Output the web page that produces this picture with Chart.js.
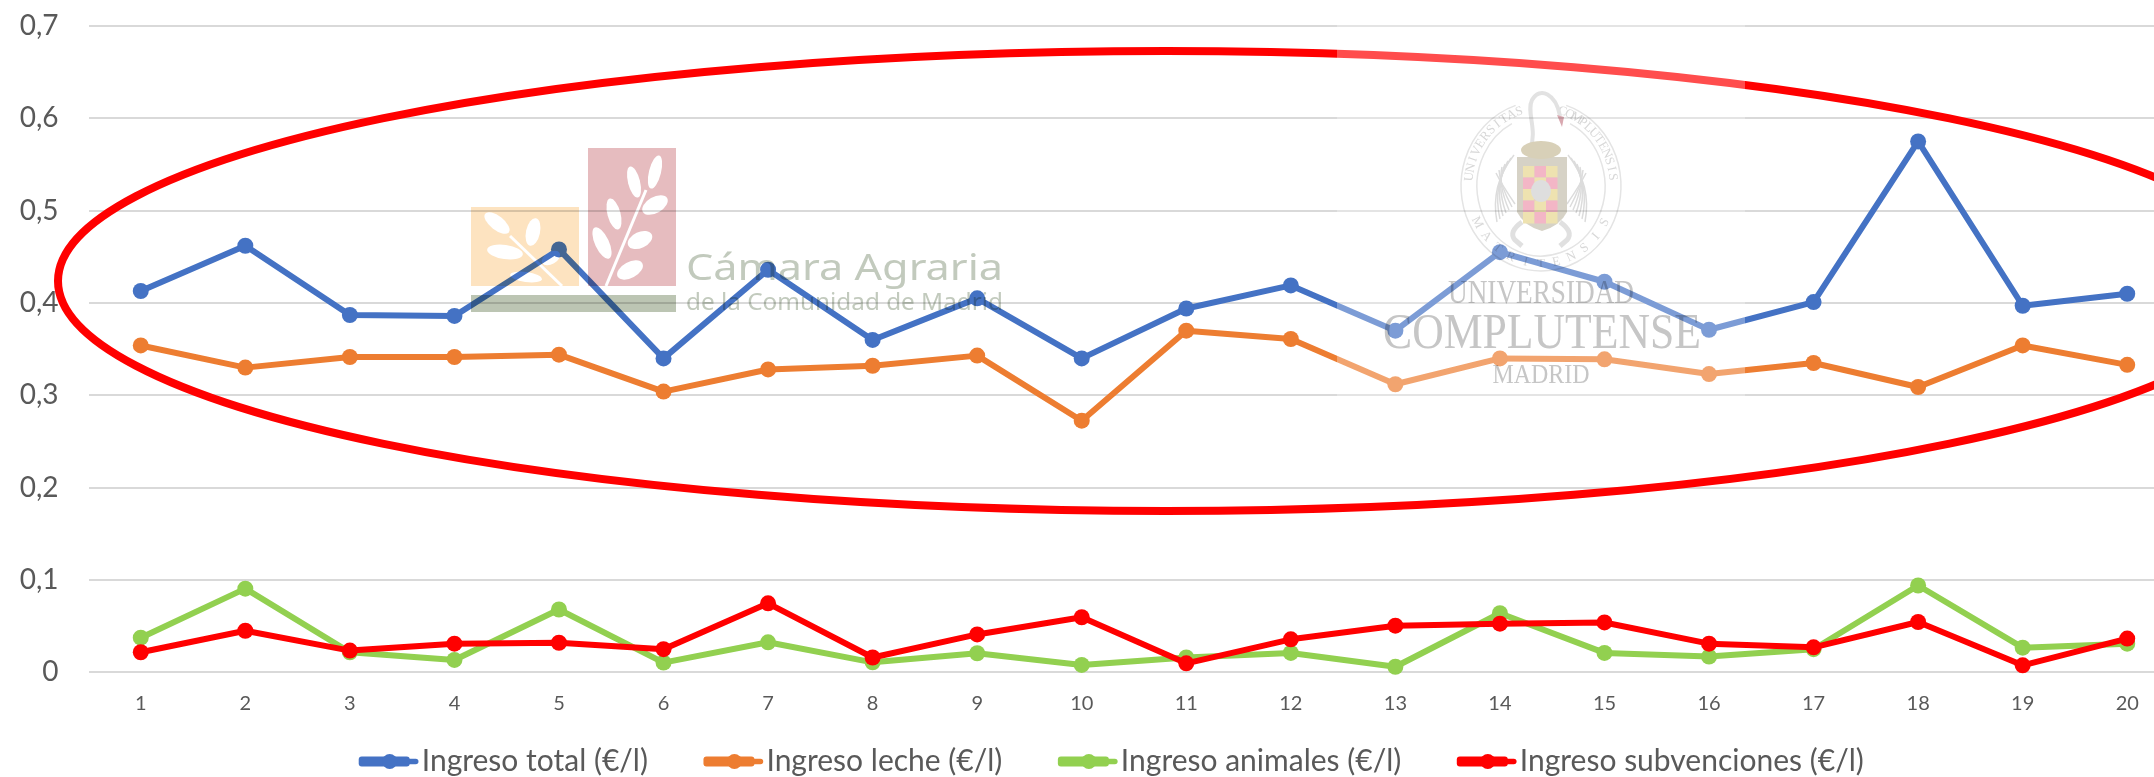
<!DOCTYPE html>
<html lang="es"><head><meta charset="utf-8">
<style>html,body{margin:0;padding:0;background:#fff;overflow:hidden;width:2154px;height:777px}canvas{display:block}</style>
<script src="https://cdn.jsdelivr.net/npm/chart.js@4"></script>
</head><body><canvas id="c" width="2216" height="777"></canvas>
<script>
const categories = ['1','2','3','4','5','6','7','8','9','10','11','12','13','14','15','16','17','18','19','20'];
const ingresoTotal = [0.413,0.462,0.387,0.386,0.458,0.340,0.436,0.360,0.405,0.340,0.394,0.419,0.370,0.455,0.423,0.371,0.401,0.575,0.397,0.410];
const ingresoLeche = [0.354,0.330,0.3415,0.3415,0.344,0.304,0.328,0.332,0.343,0.2725,0.370,0.361,0.312,0.340,0.339,0.323,0.335,0.309,0.354,0.333];
const ingresoAnimales = [0.0375,0.0906,0.0217,0.0134,0.068,0.0105,0.0325,0.0108,0.0206,0.008,0.016,0.021,0.006,0.064,0.021,0.017,0.025,0.094,0.0267,0.031];
const ingresoSubvenciones = [0.0217,0.045,0.0235,0.031,0.032,0.025,0.0747,0.016,0.041,0.0596,0.0097,0.0357,0.0505,0.0527,0.054,0.031,0.027,0.0545,0.0076,0.0365];
const seriesNames = ['Ingreso total (€/l)','Ingreso leche (€/l)','Ingreso animales (€/l)','Ingreso subvenciones (€/l)'];
const seriesColors = ['#4472C4','#ED7D31','#92D050','#FF0000'];
const TXT='#595959', FONT='Lato';

function leaf(g,x,y,rx,ry,deg){g.beginPath();g.ellipse(x,y,rx,ry,deg*Math.PI/180,0,Math.PI*2);g.fill();}
function stretchedText(g,str,x,y,w){
  const m=g.measureText(str).width;g.save();g.translate(x,y);g.scale(w/m,1);g.fillText(str,0,0);g.restore();
}
function arcText(g,str,cx,cy,rx,ry,a0,a1){
  const n=str.length;
  for(let i=0;i<n;i++){
    const a=a0+(a1-a0)*(i+0.5)/n;
    g.save();g.translate(cx+rx*Math.cos(a),cy+ry*Math.sin(a));
    g.rotate(a1>a0?a+Math.PI/2:a-Math.PI/2);g.fillText(str[i],0,0);g.restore();
  }
}
function camaraLogo(){
  const cv=document.createElement('canvas');cv.width=2154;cv.height=777;const g=cv.getContext('2d');
  g.fillStyle='#fde3c0';g.fillRect(471,207,108,79);
  g.fillStyle='#e6bcbf';g.fillRect(588,148,88,138);
  g.fillStyle='#bcc5b3';g.fillRect(471,295,205,17);
  g.fillStyle='#fff';g.strokeStyle='#fff';
  [[655,172,6,17,14],[634,182,6,16,-14],[655,205,14,8,-30],[614,214,6.5,16,-15],[640,240,13,8,-25],[602,243,7,17,-25],[630,270,14,8,-28]].forEach(a=>leaf(g,...a));
  g.lineWidth=3;g.beginPath();g.moveTo(646,190);g.lineTo(606,286);g.stroke();
  [[497,223,15,7,38],[533,232,7,14,12],[505,252,18,7,8],[551,258,10,6,-30],[526,277,16,5,8]].forEach(a=>leaf(g,...a));
  g.beginPath();g.moveTo(510,236);g.lineTo(562,286);g.stroke();
  g.fillStyle='#c2cabd';g.textBaseline='alphabetic';g.textAlign='left';
  g.font='36px "Noto Sans"';stretchedText(g,'Cámara Agraria',686,280,317);
  g.font='23px "Noto Sans"';stretchedText(g,'de la Comunidad de Madrid',686,310,317);
  return cv;
}
function complutenseLogo(){
  const cv=document.createElement('canvas');cv.width=2154;cv.height=777;const g=cv.getContext('2d');
  const cx=1541;
  g.strokeStyle='#e4e4e4';g.lineWidth=1.5;
  g.beginPath();g.ellipse(cx,186,80,85,0,-1.25,4.39);g.stroke();
  g.beginPath();g.ellipse(cx,186,64,70,0,-1.1,4.24);g.stroke();
  g.fillStyle='#d8d8d8';g.font='13px "Liberation Serif"';g.textAlign='center';g.textBaseline='middle';
  arcText(g,'UNIVERSITAS',cx,186,72,78,Math.PI*1.02,Math.PI*1.42);
  arcText(g,'COMPLUTENSIS',cx,186,72,78,Math.PI*1.58,Math.PI*1.98);
  arcText(g,'MATRITENSIS',cx,186,72,78,Math.PI*0.88,Math.PI*0.12);
  g.strokeStyle='#e2e2e2';g.lineWidth=4;
  g.beginPath();g.moveTo(1530,150);g.bezierCurveTo(1538,130,1526,112,1532,100);g.bezierCurveTo(1540,86,1556,94,1560,116);g.stroke();
  g.fillStyle='#d9a8b0';g.beginPath();g.moveTo(1557,115);g.lineTo(1564,117);g.lineTo(1562,127);g.fill();
  g.strokeStyle='#dcdcdc';g.lineWidth=1.5;
  for(let i=0;i<7;i++){
    g.beginPath();g.moveTo(1514-i*3,155+i*3);g.quadraticCurveTo(1490+i*2,185,1497+i*3,222-i*3);g.stroke();
    g.beginPath();g.moveTo(1568+i*3,155+i*3);g.quadraticCurveTo(1592-i*2,185,1585-i*3,222-i*3);g.stroke();
  }
  g.strokeStyle='#e0e0e0';g.lineWidth=5;
  g.beginPath();g.moveTo(1522,222);g.quadraticCurveTo(1508,232,1515,240);g.lineTo(1522,246);g.stroke();
  g.beginPath();g.moveTo(1560,222);g.quadraticCurveTo(1574,232,1567,240);g.lineTo(1560,246);g.stroke();
  g.fillStyle='#d6d2c6';g.beginPath();g.moveTo(1517,157);g.lineTo(1567,157);g.lineTo(1567,212);g.quadraticCurveTo(1560,226,1542,231);g.quadraticCurveTo(1524,226,1517,212);g.closePath();g.fill();
  const cw=11.5,x0=1523,y0=166;
  for(let r=0;r<5;r++)for(let c=0;c<3;c++){g.fillStyle=(r+c)%2?'#f3b6c6':'#eee2b0';g.fillRect(x0+c*cw,y0+r*11.5,cw,11.5);}
  g.fillStyle='#dedede';g.beginPath();g.ellipse(1541,191,10,11,0,0,Math.PI*2);g.fill();
  g.fillStyle='#d8d0b8';g.beginPath();g.ellipse(1541,150,20,9,0,0,Math.PI*2);g.fill();
  g.fillStyle='#c6c6c6';g.textAlign='center';g.textBaseline='alphabetic';
  g.font='33px "Liberation Serif"';g.fillText('UNIVERSIDAD',1541,303,186);
  g.font='50px "Liberation Serif"';g.fillText('COMPLUTENSE',1542,348,318);
  g.font='27px "Liberation Serif"';g.fillText('MADRID',1541,383,97);
  return cv;
}
const overlay={id:'overlay',
 afterLayout(chart){const l=chart.legend;l.left+=23;l.right+=23;l.top-=29;},
 afterDraw(chart){
  const g=chart.ctx;g.save();
  chart.legend.legendHitBoxes.forEach((h,i)=>{
    const y=h.top+h.height/2,c=seriesColors[i];
    g.strokeStyle=c;g.lineWidth=5.5;g.lineCap='round';
    g.beginPath();g.moveTo(h.left+2,y);g.lineTo(h.left+54,y);g.stroke();
    g.fillStyle=c;g.beginPath();g.arc(h.left+28,y,7.5,0,Math.PI*2);g.fill();
  });
  g.lineCap='butt';
  g.strokeStyle='#FF0000';g.lineWidth=8;
  g.beginPath();g.ellipse(1166,281,1108,230,0,0,Math.PI*2);g.stroke();
  g.fillStyle='rgba(255,255,255,0.3)';g.fillRect(1337,23,408,410);
  g.globalCompositeOperation='multiply';
  g.drawImage(camaraLogo(),0,0);
  g.drawImage(complutenseLogo(),0,0);
  g.restore();
}};
new Chart(document.getElementById('c'),{
  type:'line',
  data:{labels:categories,datasets:[ingresoTotal,ingresoLeche,ingresoAnimales,ingresoSubvenciones].map((d,i)=>({
    label:seriesNames[i],data:d,borderColor:seriesColors[i],backgroundColor:seriesColors[i],
    borderWidth:6,borderCapStyle:'round',borderJoinStyle:'round',pointRadius:8,pointBackgroundColor:seriesColors[i],pointBorderColor:seriesColors[i],pointBorderWidth:0,
    tension:0,order:4-i,clip:false}))},
  plugins:[overlay],
  options:{responsive:false,animation:false,
    layout:{autoPadding:false,padding:{top:26,left:0,right:36.5,bottom:0}},
    plugins:{tooltip:{enabled:false},title:{display:false},
      legend:{position:'bottom',maxHeight:60,labels:{boxWidth:45,boxHeight:4,padding:58.5,color:TXT,font:{family:FONT,size:30},sort:(a,b)=>a.datasetIndex-b.datasetIndex}}},
    scales:{
      x:{type:'category',offset:true,border:{display:false},grid:{display:false,drawTicks:false},
        ticks:{color:TXT,font:{family:FONT,size:20},padding:19,maxRotation:0,autoSkip:false},
        afterFit(s){s.height=44.7;}},
      y:{min:0,max:0.7,border:{display:false},grid:{color:'#D9D9D9',lineWidth:2,drawTicks:false},
        ticks:{stepSize:0.1,color:TXT,font:{family:FONT,size:28},padding:30,callback:v=>v===0?'0':String(Math.round(v*10)/10).replace('.',',')},
        afterFit(s){s.width=88.5;s.paddingTop=0;s.paddingBottom=0;}}
    }}
});
</script></body></html>
